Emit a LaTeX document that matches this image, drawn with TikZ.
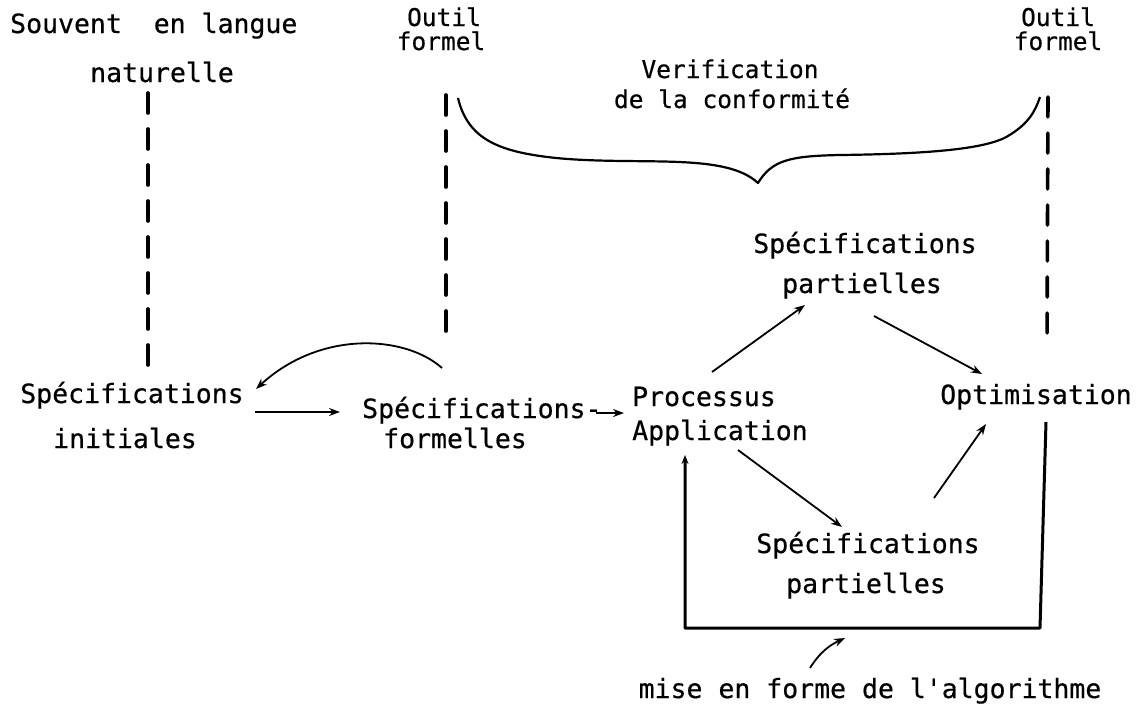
\documentclass[tikz,border=0pt]{standalone}
\usepackage{fontspec}
\setmonofont[FakeBold=0.5]{DejaVu Sans Mono}
\usetikzlibrary{arrows.meta}
\begin{document}
\begin{tikzpicture}[x=1pt,y=-1pt,
  lbl/.style={inner sep=0pt,anchor=base,font=\ttfamily\fontsize{26.5}{30}\selectfont},
  toplbl/.style={lbl,font=\ttfamily\fontsize{24.5}{28}\selectfont},
  dashline/.style={line width=3.6pt,dash pattern=on 20pt off 16pt,line cap=round},
  flow/.style={line width=1.8pt,-{Stealth[length=11pt,width=8pt]}},
  loopline/.style={line width=3pt},
  brace/.style={line width=2.2pt,line join=round}]
\useasboundingbox (0,0) rectangle (1144,705);

% labels
\node[lbl,anchor=base west] (souvent) at (10,33) {Souvent\ \ en langue};
\node[lbl] (nat) at (162,82) {naturelle};
\node[toplbl] (outilA) at (444,26) {Outil};
\node[toplbl] (formelA) at (441,50) {formel};
\node[toplbl] (outilB) at (1058,26) {Outil};
\node[toplbl] (formelB) at (1058,50) {formel};
\node[toplbl] (verif) at (730,78) {Verification};
\node[toplbl] (conf) at (732,108) {de la conformité};

\node[lbl] (initA) at (132,403) {Spécifications};
\node[lbl] (initB) at (125,448) {initiales};
\node[lbl,anchor=base west] (formA) at (362,418) {Spécifications-};
\node[lbl,anchor=base west] (formB) at (383,448) {formelles};
\node[lbl,anchor=base west] (procA) at (632,406) {Processus};
\node[lbl,anchor=base west] (procB) at (632,440) {Application};
\node[lbl] (optim) at (1036,404) {Optimisation};
\node[lbl] (partA1) at (865,253) {Spécifications};
\node[lbl] (partA2) at (862,293) {partielles};
\node[lbl] (partB1) at (868,553) {Spécifications};
\node[lbl] (partB2) at (866,593) {partielles};
\node[lbl] (algo) at (870,698) {mise en forme de l'algorithme};

% dashed links from the informal / formal tools
\coordinate (lt) at (148,93);  \coordinate (lb) at (148,377);
\coordinate (mt) at (446,95);  \coordinate (mb) at (446,343);
\coordinate (rt) at (1048,97); \coordinate (rb) at (1047,347);
\draw[dashline] (lt) -- (lb);
\draw[dashline] (mt) -- (mb);
\draw[dashline] (rt) -- (rb);

% conformity brace
\coordinate (bl) at (458,98);
\coordinate (tip) at (758,183);
\coordinate (br) at (1040,97);
\draw[brace] (bl) .. controls (468,140) and (500,152) .. (556,158)
  .. controls (640,166) and (725,152) .. (tip)
  .. controls (772,160) and (790,156) .. (840,155)
  .. controls (920,154) and (985,150) .. (1008,136)
  .. controls (1028,124) and (1035,112) .. (br);

% back arrow to the initial specifications
\coordinate (cs) at (442,368);
\coordinate (ce) at (256,389);
\draw[flow] (cs) .. controls (405,335) and (320,330) .. (ce);

% main flow
\coordinate (a1) at (255,412); \coordinate (a2) at (340,412);
\draw[flow] (a1) -- (a2);
\coordinate (b1) at (596,413); \coordinate (b2) at (624,413);
\draw[flow] (b1) -- (b2);
\coordinate (c1) at (712,372); \coordinate (c2) at (805,305);
\draw[flow] (c1) -- (c2);
\coordinate (d1) at (874,316); \coordinate (d2) at (982,374);
\draw[flow] (d1) -- (d2);
\coordinate (e1) at (738,450); \coordinate (e2) at (842,527);
\draw[flow] (e1) -- (e2);
\coordinate (f1) at (934,498); \coordinate (f2) at (986,424);
\draw[flow] (f1) -- (f2);

% algorithm shaping loop
\coordinate (l1) at (1046,422);
\coordinate (l2) at (1040,628);
\coordinate (l3) at (685,628);
\coordinate (l4) at (685,455);
\draw[loopline,line join=round,-{Stealth[length=9pt,width=7pt]}] (l1) -- (l2) -- (l3) -- (l4);
\coordinate (g1) at (810,668); \coordinate (g2) at (845,638);
\draw[flow] (g1) .. controls (820,652) and (830,645) .. (g2);
\end{tikzpicture}
\end{document}
